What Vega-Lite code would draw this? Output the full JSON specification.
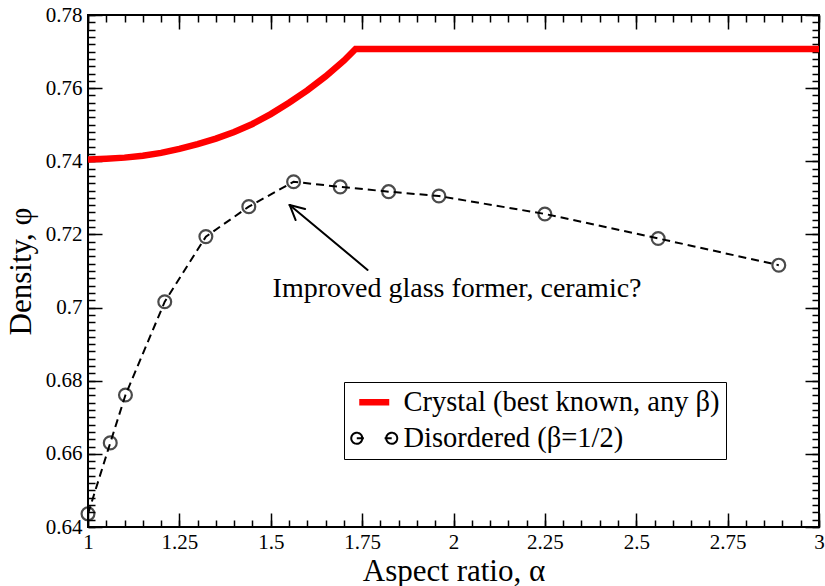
{
  "$schema": "https://vega.github.io/schema/vega-lite/v6.json",
  "width": 731,
  "height": 512,
  "autosize": "none",
  "padding": {"left": 88, "top": 15, "right": 6, "bottom": 59},
  "background": "white",
  "config": {
    "view": {"stroke": "black", "strokeWidth": 2},
    "font": "Liberation Serif",
    "axis": {
      "grid": false,
      "domain": false,
      "tickColor": "black",
      "tickWidth": 1.5,
      "labelFont": "Liberation Serif",
      "labelFontSize": 21,
      "labelColor": "black",
      "titleFont": "Liberation Serif",
      "titleFontSize": 31,
      "titleFontWeight": "normal",
      "titleColor": "black",
      "labelFlush": false,
      "labelOverlap": false
    }
  },
  "datasets": {
    "crystal": [
      {"alpha": 1.0, "phi": 0.7405, "series": "Crystal (best known, any β)"},
      {"alpha": 1.05, "phi": 0.7407, "series": "Crystal (best known, any β)"},
      {"alpha": 1.1, "phi": 0.741, "series": "Crystal (best known, any β)"},
      {"alpha": 1.15, "phi": 0.7415, "series": "Crystal (best known, any β)"},
      {"alpha": 1.2, "phi": 0.7423, "series": "Crystal (best known, any β)"},
      {"alpha": 1.25, "phi": 0.7434, "series": "Crystal (best known, any β)"},
      {"alpha": 1.3, "phi": 0.7447, "series": "Crystal (best known, any β)"},
      {"alpha": 1.35, "phi": 0.7462, "series": "Crystal (best known, any β)"},
      {"alpha": 1.4, "phi": 0.748, "series": "Crystal (best known, any β)"},
      {"alpha": 1.45, "phi": 0.7502, "series": "Crystal (best known, any β)"},
      {"alpha": 1.5, "phi": 0.7529, "series": "Crystal (best known, any β)"},
      {"alpha": 1.55, "phi": 0.756, "series": "Crystal (best known, any β)"},
      {"alpha": 1.6, "phi": 0.7594, "series": "Crystal (best known, any β)"},
      {"alpha": 1.65, "phi": 0.7632, "series": "Crystal (best known, any β)"},
      {"alpha": 1.7, "phi": 0.7675, "series": "Crystal (best known, any β)"},
      {"alpha": 1.732, "phi": 0.7707, "series": "Crystal (best known, any β)"},
      {"alpha": 3.0, "phi": 0.7707, "series": "Crystal (best known, any β)"}
    ],
    "disordered": [
      {"alpha": 1.0, "phi": 0.6436, "series": "Disordered (β=1/2)"},
      {"alpha": 1.0609, "phi": 0.663, "series": "Disordered (β=1/2)"},
      {"alpha": 1.1025, "phi": 0.6761, "series": "Disordered (β=1/2)"},
      {"alpha": 1.21, "phi": 0.7016, "series": "Disordered (β=1/2)"},
      {"alpha": 1.3225, "phi": 0.7194, "series": "Disordered (β=1/2)"},
      {"alpha": 1.44, "phi": 0.7276, "series": "Disordered (β=1/2)"},
      {"alpha": 1.5625, "phi": 0.7344, "series": "Disordered (β=1/2)"},
      {"alpha": 1.69, "phi": 0.733, "series": "Disordered (β=1/2)"},
      {"alpha": 1.8225, "phi": 0.7317, "series": "Disordered (β=1/2)"},
      {"alpha": 1.96, "phi": 0.7305, "series": "Disordered (β=1/2)"},
      {"alpha": 2.25, "phi": 0.7256, "series": "Disordered (β=1/2)"},
      {"alpha": 2.56, "phi": 0.7189, "series": "Disordered (β=1/2)"},
      {"alpha": 2.89, "phi": 0.7116, "series": "Disordered (β=1/2)"}
    ],
    "note": [
      {"alpha": 1.505, "phi": 0.703, "label": "Improved glass former, ceramic?"}
    ],
    "arrow": [
      {"a1": 1.765, "p1": 0.7103, "a2": 1.5517, "p2": 0.72805},
      {"a1": 1.5941, "p1": 0.72695, "a2": 1.5517, "p2": 0.72805},
      {"a1": 1.5681, "p1": 0.72394, "a2": 1.5517, "p2": 0.72805}
    ]
  },
  "resolve": {"axis": {"x": "independent", "y": "independent"}},
  "layer": [
    {
      "data": {"name": "crystal"},
      "mark": {"type": "line", "strokeWidth": 6.5, "strokeCap": "butt", "clip": true},
      "encoding": {
        "x": {
          "field": "alpha", "type": "quantitative",
          "scale": {"domain": [1, 3], "nice": false, "zero": false},
          "axis": {
            "orient": "bottom",
            "values": [1, 1.25, 1.5, 1.75, 2, 2.25, 2.5, 2.75, 3],
            "format": ".3~g", "tickSize": -14, "labelPadding": 18,
            "title": "Aspect ratio, α", "titlePadding": 4
          }
        },
        "y": {
          "field": "phi", "type": "quantitative",
          "scale": {"domain": [0.64, 0.78], "nice": false, "zero": false},
          "axis": {
            "orient": "left",
            "values": [0.64, 0.66, 0.68, 0.7, 0.72, 0.74, 0.76, 0.78],
            "format": ".3~g", "tickSize": -14, "labelPadding": 20,
            "title": "Density, φ", "titlePadding": 8
          }
        },
        "color": {
          "field": "series", "type": "nominal",
          "scale": {"domain": ["Crystal (best known, any β)", "Disordered (β=1/2)"], "range": ["#ff0000", "#000000"]},
          "legend": {
            "orient": "none", "legendX": 256, "legendY": 367, "title": null,
            "labelFontSize": 28.5, "labelFont": "Liberation Serif", "labelColor": "black",
            "symbolType": "stroke", "symbolSize": 2116, "symbolStrokeWidth": 2,
            "symbolOffset": 10, "labelOffset": 15, "padding": 6, "rowPadding": 7,
            "strokeColor": "black", "fillColor": "white", "labelLimit": 0,
            "encode": {
              "symbols": {
                "update": {
                  "shape": {"signal": "datum.value === 'Disordered (β=1/2)' ? 'M-1,0A0.24,0.24 0 1,1 -0.52,0A0.24,0.24 0 1,1 -1,0M-0.76,0L-0.45,0M0.45,0L0.76,0M0.52,0A0.24,0.24 0 1,1 1,0A0.24,0.24 0 1,1 0.52,0' : 'stroke'"},
                  "size": {"signal": "datum.value === 'Disordered (β=1/2)' ? 2116 : 900"},
                  "strokeWidth": {"signal": "datum.value === 'Disordered (β=1/2)' ? 2 : 6.5"},
                  "strokeDash": {"value": [1, 0]},
                  "fill": {"value": "transparent"}
                }
              }
            }
          }
        }
      }
    },
    {
      "data": {"name": "disordered"},
      "mark": {"type": "line", "strokeWidth": 2, "strokeDash": [8, 5]},
      "encoding": {
        "x": {
          "field": "alpha", "type": "quantitative",
          "axis": {
            "orient": "bottom", "labels": false, "title": null, "tickSize": -7,
            "values": [1,1.05,1.1,1.15,1.2,1.25,1.3,1.35,1.4,1.45,1.5,1.55,1.6,1.65,1.7,1.75,1.8,1.85,1.9,1.95,2,2.05,2.1,2.15,2.2,2.25,2.3,2.35,2.4,2.45,2.5,2.55,2.6,2.65,2.7,2.75,2.8,2.85,2.9,2.95,3]
          }
        },
        "y": {
          "field": "phi", "type": "quantitative",
          "axis": {
            "orient": "left", "labels": false, "title": null, "tickSize": -7,
            "values": [0.64,0.642,0.644,0.646,0.648,0.65,0.652,0.654,0.656,0.658,0.66,0.662,0.664,0.666,0.668,0.67,0.672,0.674,0.676,0.678,0.68,0.682,0.684,0.686,0.688,0.69,0.692,0.694,0.696,0.698,0.7,0.702,0.704,0.706,0.708,0.71,0.712,0.714,0.716,0.718,0.72,0.722,0.724,0.726,0.728,0.73,0.732,0.734,0.736,0.738,0.74,0.742,0.744,0.746,0.748,0.75,0.752,0.754,0.756,0.758,0.76,0.762,0.764,0.766,0.768,0.77,0.772,0.774,0.776,0.778,0.78]
          }
        },
        "color": {"field": "series", "type": "nominal"}
      }
    },
    {
      "data": {"name": "disordered"},
      "mark": {"type": "point", "shape": "circle", "size": 165, "filled": false, "strokeWidth": 2.2, "color": "black", "clip": false},
      "encoding": {
        "x": {
          "field": "alpha", "type": "quantitative",
          "axis": {
            "orient": "top", "labels": false, "title": null, "tickSize": -14,
            "values": [1, 1.25, 1.5, 1.75, 2, 2.25, 2.5, 2.75, 3]
          }
        },
        "y": {
          "field": "phi", "type": "quantitative",
          "axis": {
            "orient": "right", "labels": false, "title": null, "tickSize": -14,
            "values": [0.64, 0.66, 0.68, 0.7, 0.72, 0.74, 0.76, 0.78]
          }
        }
      }
    },
    {
      "data": {"name": "note"},
      "mark": {"type": "text", "align": "left", "baseline": "alphabetic", "fontSize": 28, "font": "Liberation Serif", "color": "black"},
      "encoding": {
        "x": {
          "field": "alpha", "type": "quantitative",
          "axis": {
            "orient": "top", "labels": false, "title": null, "tickSize": -7,
            "values": [1,1.05,1.1,1.15,1.2,1.25,1.3,1.35,1.4,1.45,1.5,1.55,1.6,1.65,1.7,1.75,1.8,1.85,1.9,1.95,2,2.05,2.1,2.15,2.2,2.25,2.3,2.35,2.4,2.45,2.5,2.55,2.6,2.65,2.7,2.75,2.8,2.85,2.9,2.95,3]
          }
        },
        "y": {
          "field": "phi", "type": "quantitative",
          "axis": {
            "orient": "right", "labels": false, "title": null, "tickSize": -7,
            "values": [0.64,0.642,0.644,0.646,0.648,0.65,0.652,0.654,0.656,0.658,0.66,0.662,0.664,0.666,0.668,0.67,0.672,0.674,0.676,0.678,0.68,0.682,0.684,0.686,0.688,0.69,0.692,0.694,0.696,0.698,0.7,0.702,0.704,0.706,0.708,0.71,0.712,0.714,0.716,0.718,0.72,0.722,0.724,0.726,0.728,0.73,0.732,0.734,0.736,0.738,0.74,0.742,0.744,0.746,0.748,0.75,0.752,0.754,0.756,0.758,0.76,0.762,0.764,0.766,0.768,0.77,0.772,0.774,0.776,0.778,0.78]
          }
        },
        "text": {"field": "label"}
      }
    },
    {
      "data": {"name": "arrow"},
      "mark": {"type": "rule", "strokeWidth": 2, "color": "black", "strokeCap": "round"},
      "encoding": {
        "x": {"field": "a1", "type": "quantitative", "axis": null},
        "y": {"field": "p1", "type": "quantitative", "axis": null},
        "x2": {"field": "a2"},
        "y2": {"field": "p2"}
      }
    }
  ]
}
